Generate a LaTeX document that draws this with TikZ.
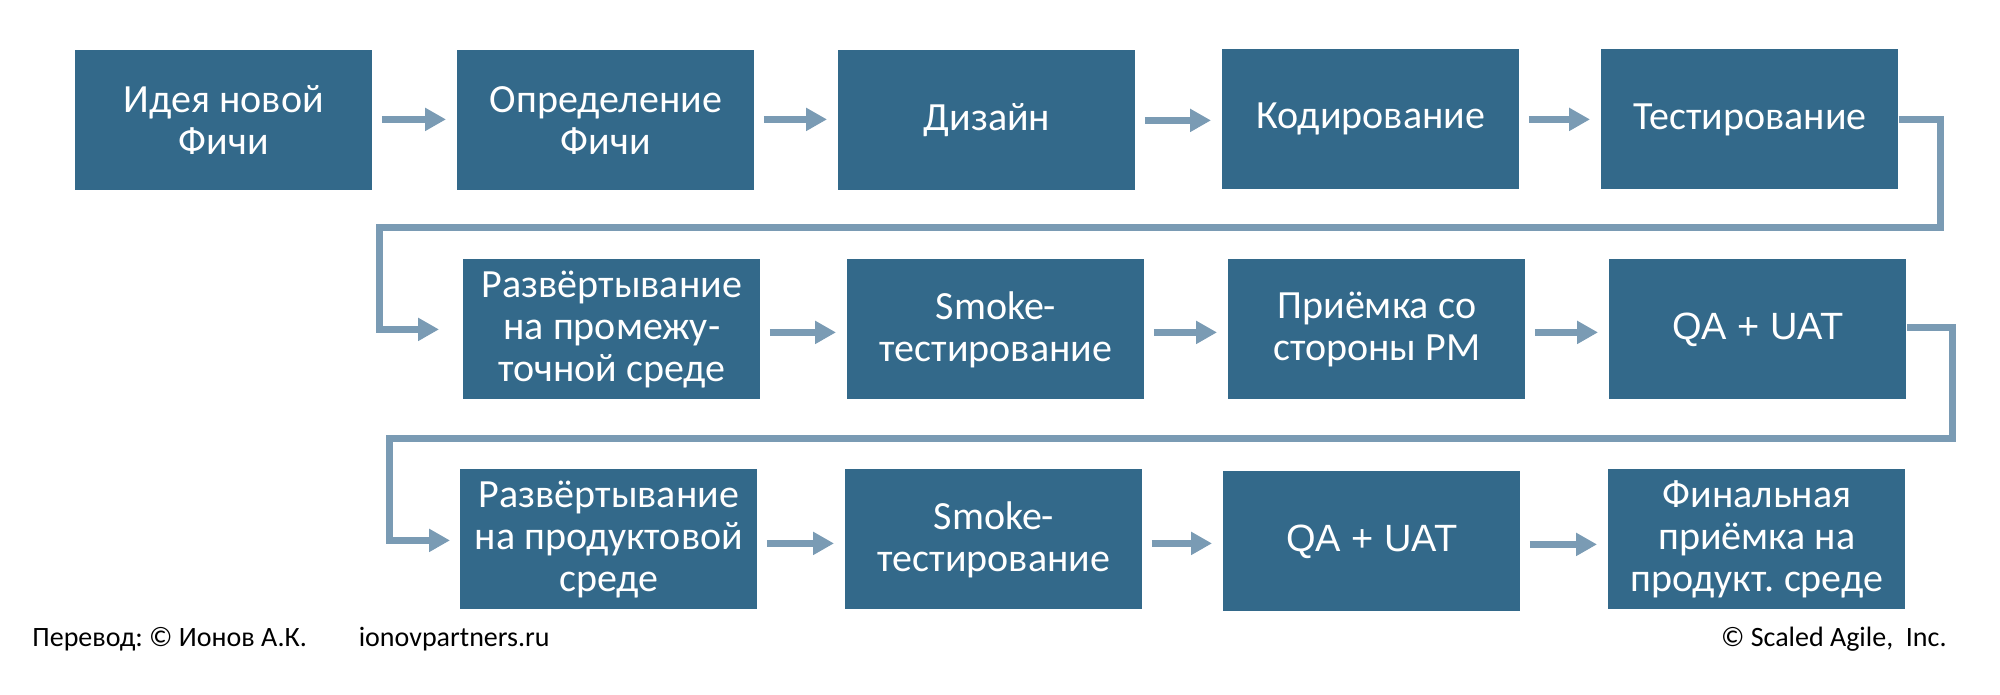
\documentclass[tikz,border=0pt]{standalone}
\usepackage{fontspec}
\setmainfont{Carlito}
\newfontfamily\qafont{Liberation Sans}
\usetikzlibrary{arrows.meta}
\definecolor{boxblue}{RGB}{51,105,138}
\definecolor{arrowblue}{RGB}{122,155,180}
\frenchspacing
\begin{document}
\begin{tikzpicture}[x=0.5pt,y=-0.5pt,
  stepbox/.style={fill=boxblue, text=white, minimum width=148.5pt, minimum height=70pt,
    inner sep=0pt, align=center, anchor=north west, font=\fontsize{20}{21}\selectfont},
  qabox/.style={stepbox, font=\qafont\fontsize{19}{21}\selectfont},
  flow/.style={draw=arrowblue, line width=3.5pt, line join=miter,
    -{Triangle[width=11pt,length=10.5pt]}},
  rowarrow/.style={flow, shorten <=4.5pt, shorten >=5.5pt},
  foot/.style={font=\fontsize{14}{16}\selectfont, inner sep=0pt}
]
\useasboundingbox (0,0) rectangle (2000,695);
% row 1
\node[stepbox] (b1) at (75,50)   {Идея новой\\Фичи};
\node[stepbox] (b2) at (457,50)  {Определение\\Фичи};
\node[stepbox] (b3) at (838,50)  {Дизайн};
\node[stepbox] (b4) at (1222,49) {Кодирование};
\node[stepbox] (b5) at (1601,49) {Тестирование};
% row 2
\node[stepbox] (b6) at (463,259)  {Развёртывание\\на промежу-\\точной среде};
\node[stepbox] (b7) at (847,259)  {Smoke-\\тестирование};
\node[stepbox] (b8) at (1228,259) {Приёмка со\\стороны PM};
\node[qabox]   (b9) at (1609,259) {QA + UAT};
% row 3
\node[stepbox] (b11) at (460,469)  {Развёртывание\\на продуктовой\\среде};
\node[stepbox] (b12) at (845,469)  {Smoke-\\тестирование};
\node[qabox]   (b13) at (1223,471) {QA + UAT};
\node[stepbox] (b14) at (1608,469) {Финальная\\приёмка на\\продукт. среде};
% row arrows (kept horizontal)
\draw[rowarrow] ([yshift=0.5pt]b1.east) -- ([yshift=0.5pt]b1.east -| b2.west);
\draw[rowarrow] ([yshift=0.5pt]b2.east) -- ([yshift=0.5pt]b2.east -| b3.west);
\draw[rowarrow] (b3.east) -- (b3.east -| b4.west);
\draw[rowarrow] (b4.east) -- (b4.east -| b5.west);
\draw[rowarrow] ([yshift=-1.5pt]b6.east) -- ([yshift=-1.5pt]b6.east -| b7.west);
\draw[rowarrow] ([yshift=-1.5pt]b7.east) -- ([yshift=-1.5pt]b7.east -| b8.west);
\draw[rowarrow] ([yshift=-1.5pt]b8.east) -- ([yshift=-1.5pt]b8.east -| b9.west);
\draw[rowarrow] ([yshift=-2pt]b11.east) -- ([yshift=-2pt]b11.east -| b12.west);
\draw[rowarrow] ([yshift=-2pt]b12.east) -- ([yshift=-2pt]b12.east -| b13.west);
\draw[rowarrow] ([yshift=-1.5pt]b13.east) -- ([yshift=-1.5pt]b13.east -| b14.west);
% wrap connectors
\coordinate (c1) at (1940,228);
\coordinate (c2) at (379,228);
\draw[flow, shorten >=12pt] (b5.east) -| (c1) -- (c2) |- (b6.west);
\coordinate (c3) at (1952,438);
\coordinate (c4) at (389,438);
\draw[flow, shorten >=5pt] ([yshift=1pt]b9.east) -| (c3) -- (c4) |- ([yshift=-0.5pt]b11.west);
% footer
\node[foot, anchor=base west] (f1) at (32,646) {Перевод: © Ионов А.К.\hspace{26pt}ionovpartners.ru};
\node[foot, anchor=base east] (f2) at (1947,646) {© Scaled Agile,\ \ Inc.};
\end{tikzpicture}
\end{document}
